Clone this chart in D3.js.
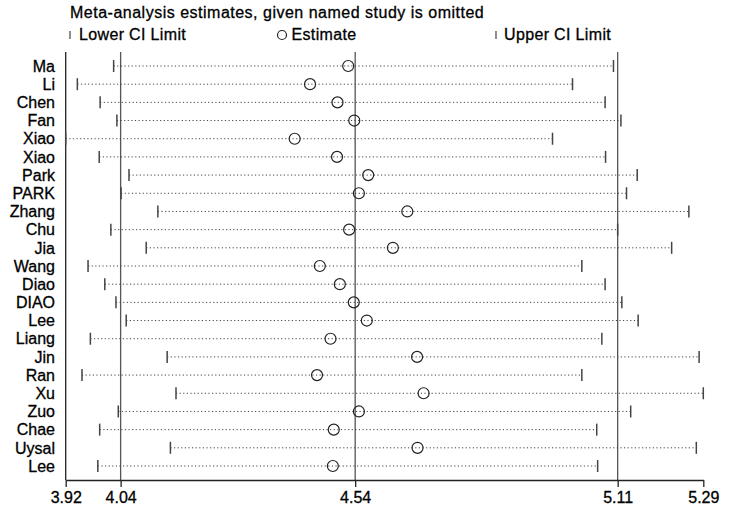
<!DOCTYPE html>
<html>
<head>
<meta charset="utf-8">
<script src="https://cdn.jsdelivr.net/npm/d3@7"></script>
<style>
	body { margin: 0; background: #fff; }
	text { font-family: "Liberation Sans", Arial, sans-serif; fill: #000; stroke: #000; stroke-width: 0.3px; }
</style>
</head>
<body>
<div id="chart"></div>
<script>
	// studies, one row each, top to bottom
	var studies = ["Ma", "Li", "Chen", "Fan", "Xiao", "Xiao", "Park", "PARK", "Zhang", "Chu", "Jia",
		"Wang", "Diao", "DIAO", "Lee", "Liang", "Jin", "Ran", "Xu", "Zuo", "Chae", "Uysal", "Lee"];

	var lower = [4.023, 3.945, 3.994, 4.030, 3.920, 3.992, 4.056, 4.039, 4.118, 4.017, 4.093,
		3.968, 4.004, 4.028, 4.050, 3.973, 4.138, 3.955, 4.157, 4.033, 3.993, 4.145, 3.989];

	var estimate = [4.527, 4.445, 4.504, 4.540, 4.412, 4.503, 4.570, 4.550, 4.654, 4.529, 4.623,
		4.466, 4.509, 4.539, 4.567, 4.489, 4.675, 4.460, 4.689, 4.550, 4.496, 4.676, 4.494];

	var upper = [5.097, 5.009, 5.079, 5.113, 4.966, 5.080, 5.148, 5.125, 5.259, 5.106, 5.222,
		5.029, 5.079, 5.115, 5.150, 5.072, 5.281, 5.029, 5.290, 5.134, 5.061, 5.275, 5.063];

	// overall estimate and its CI (reference lines) plus the axis ends
	var refLines = [4.038, 4.542, 5.106];
	var tickValues = [3.92, 4.038, 4.542, 5.106, 5.29];
	var tickLabels = ["3.92", "4.04", "4.54", "5.11", "5.29"];

	var width = 729, height = 516;
	var plotTop = 52, plotBottom = 480;

	var svg = d3.select("#chart")
		.append("svg")
		.attr("width", width)
		.attr("height", height);

	var x = d3.scaleLinear().domain([3.92, 5.29]).range([65.7, 703.3]);
	var y = d3.scalePoint().domain(d3.range(studies.length)).range([66, 466]);

	// title
	svg.append("text")
		.attr("x", 70)
		.attr("y", 18)
		.style("font-size", "16px")
		.style("letter-spacing", "0.5px")
		.text("Meta-analysis estimates, given named study is omitted");

	// legend
	var legend = svg.append("g");
	legend.append("line")
		.attr("x1", 70).attr("x2", 70).attr("y1", 31).attr("y2", 39)
		.attr("stroke", "#444").attr("stroke-width", 1.2);
	legend.append("text").attr("x", 79).attr("y", 40).style("font-size", "16px")
		.style("letter-spacing", "0.35px").text("Lower CI Limit");
	legend.append("circle")
		.attr("cx", 282).attr("cy", 35).attr("r", 4.5)
		.attr("fill", "none").attr("stroke", "#222").attr("stroke-width", 1.2);
	legend.append("text").attr("x", 291.5).attr("y", 40).style("font-size", "16px")
		.style("letter-spacing", "0.35px").text("Estimate");
	legend.append("line")
		.attr("x1", 496).attr("x2", 496).attr("y1", 31).attr("y2", 39)
		.attr("stroke", "#444").attr("stroke-width", 1.2);
	legend.append("text").attr("x", 504).attr("y", 40).style("font-size", "16px")
		.style("letter-spacing", "0.35px").text("Upper CI Limit");

	// reference lines
	svg.selectAll("line.ref")
		.data(refLines)
		.enter()
			.append("line")
			.attr("class", "ref")
			.attr("x1", function(d) { return x(d); })
			.attr("x2", function(d) { return x(d); })
			.attr("y1", plotTop)
			.attr("y2", plotBottom)
			.attr("stroke", "#555")
			.attr("stroke-width", 1.3);

	// y axis line
	svg.append("line")
		.attr("x1", x(3.92)).attr("x2", x(3.92))
		.attr("y1", plotTop).attr("y2", plotBottom)
		.attr("stroke", "#222").attr("stroke-width", 1.3);

	var rows = svg.selectAll("g.row")
		.data(studies)
		.enter()
			.append("g")
			.attr("class", "row");

	// dotted CI lines
	rows.append("line")
		.attr("x1", function(d, i) { return x(lower[i]); })
		.attr("x2", function(d, i) { return x(upper[i]); })
		.attr("y1", function(d, i) { return y(i); })
		.attr("y2", function(d, i) { return y(i); })
		.attr("stroke", "#444")
		.attr("stroke-width", 1)
		.attr("stroke-dasharray", "1.2,2.4");

	// lower and upper caps
	rows.append("line")
		.attr("x1", function(d, i) { return x(lower[i]); })
		.attr("x2", function(d, i) { return x(lower[i]); })
		.attr("y1", function(d, i) { return y(i) - 6; })
		.attr("y2", function(d, i) { return y(i) + 6; })
		.attr("stroke", "#444")
		.attr("stroke-width", 1.5);

	rows.append("line")
		.attr("x1", function(d, i) { return x(upper[i]); })
		.attr("x2", function(d, i) { return x(upper[i]); })
		.attr("y1", function(d, i) { return y(i) - 6; })
		.attr("y2", function(d, i) { return y(i) + 6; })
		.attr("stroke", "#444")
		.attr("stroke-width", 1.5);

	// estimates
	rows.append("circle")
		.attr("cx", function(d, i) { return x(estimate[i]); })
		.attr("cy", function(d, i) { return y(i); })
		.attr("r", 5.5)
		.attr("fill", "none")
		.attr("stroke", "#222")
		.attr("stroke-width", 1.2);

	// study labels
	rows.append("text")
		.attr("x", 55)
		.attr("y", function(d, i) { return y(i); })
		.attr("dy", "0.36em")
		.attr("text-anchor", "end")
		.style("font-size", "16px")
		.text(function(d) { return d; });

	// x axis
	var xAxis = d3.axisBottom(x)
		.tickValues(tickValues)
		.tickFormat(function(d, i) { return tickLabels[i]; })
		.tickSize(7)
		.tickSizeOuter(0)
		.tickPadding(5);

	var gx = svg.append("g")
		.attr("transform", "translate(0," + plotBottom + ")")
		.call(xAxis);

	gx.select(".domain").attr("stroke", "#222").attr("stroke-width", 1.3);
	gx.selectAll(".tick line").attr("stroke", "#222").attr("stroke-width", 1.3);
	gx.selectAll(".tick text")
		.style("font-size", "16px")
		.style("font-family", "'Liberation Sans', Arial, sans-serif")
		.attr("fill", "#000");
</script>
</body>
</html>
